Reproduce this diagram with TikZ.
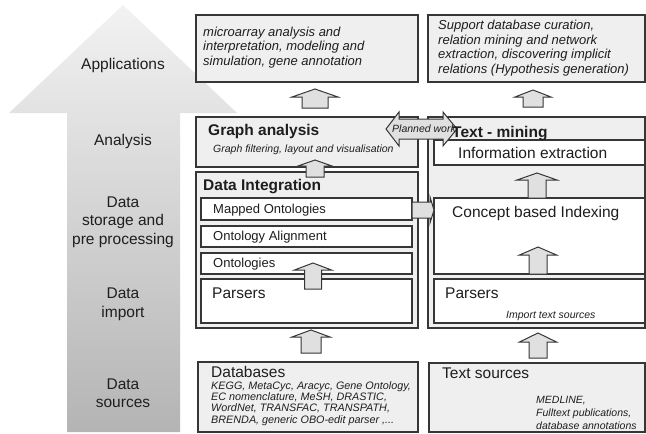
\documentclass[tikz,border=0pt]{standalone}
\usepackage{fontspec}
\setmainfont{Liberation Sans}
\definecolor{boxfill}{HTML}{EFEFF0}
\definecolor{bord}{HTML}{363636}
\definecolor{arrfill}{HTML}{E0E0E0}
\definecolor{labcol}{HTML}{1E1E1E}
\definecolor{bigtop}{HTML}{F2F2F2}
\definecolor{bigbot}{HTML}{B4B4B4}
\newcommand\fsz[2]{\fontsize{#1}{#2}\selectfont}
\newcommand\leftlines[1]{\vtop{\halign{##\hfil\cr#1\crcr}}}
\newcommand\centlines[1]{\vtop{\halign{\hfil##\hfil\cr#1\crcr}}}
% block up arrow: x, tip y, head base y, bottom y, head half width, shaft half width
\newcommand\uparr[6]{\draw[blockarr] (#1,#2) -- (#1+#5,#3) -- (#1+#6,#3) -- (#1+#6,#4) -- (#1-#6,#4) -- (#1-#6,#3) -- (#1-#5,#3) -- cycle;}
\begin{document}
\begin{tikzpicture}[x=1pt,y=-1pt,
  box/.style={draw=bord,line width=1.1pt,fill=boxfill,inner sep=0pt,outer sep=0pt,anchor=north west},
  wbox/.style={box,fill=white},
  blockarr/.style={draw=bord,line width=1pt,fill=arrfill,line join=miter},
  sidelab/.style={font=\fsz{15.5}{18.5},text=labcol,inner sep=0pt,anchor=base},
  ttlbf/.style={font=\bfseries\fsz{15.5}{18},text=labcol,inner sep=0pt,anchor=base west},
  ttlrg/.style={font=\fsz{15.5}{18},text=labcol,inner sep=0pt,anchor=base west},
  midtxt/.style={font=\fsz{13}{15},text=labcol,inner sep=0pt,anchor=base west},
  apptxt/.style={font=\itshape\fsz{13}{14.7},text=labcol,inner sep=0pt,anchor=base west},
  smalltxt/.style={font=\itshape\fsz{10.5}{13},text=labcol,inner sep=0pt,anchor=base west},
]
\useasboundingbox[fill=white] (0,0) rectangle (646,434);

% big gradient arrow
\shade[top color=bigtop,bottom color=bigbot] (123,5) -- (237,113) -- (180,113) -- (180,432) -- (67,432) -- (67,113) -- (9,113) -- cycle;

% hidden arrow (Ontology Alignment -> Mapped Ontologies)
\uparr{313}{214}{221}{234}{17}{7.5}

% boxes
\node[box,minimum width=222,minimum height=67] (appL) at (196,15) {};
\node[box,minimum width=217,minimum height=67] (appR) at (428,15) {};
\node[box,minimum width=222,minimum height=50] (graphL) at (196,117) {};
\node[box,minimum width=217,minimum height=211] (tmR) at (428,117) {};
\node[wbox,minimum width=211,minimum height=25] (infoR) at (434,140) {};
\node[wbox,minimum width=211,minimum height=76] (concR) at (434,198) {};
\node[wbox,minimum width=211,minimum height=44] (parsR) at (434,279) {};
\node[box,minimum width=222,minimum height=156] (diL) at (196,172) {};
\node[wbox,minimum width=211,minimum height=22] (mapL) at (201,198) {};
\node[wbox,minimum width=211,minimum height=21] (alignL) at (201,226) {};
\node[wbox,minimum width=211,minimum height=21] (ontL) at (201,253) {};
\node[wbox,minimum width=211,minimum height=44] (parsL) at (201,279) {};
\node[box,minimum width=220,minimum height=70] (dbL) at (198,362) {};
\node[box,minimum width=216,minimum height=69] (tsR) at (429,363) {};

% block arrows
\uparr{315}{89}{97}{108}{23}{13}
\uparr{533}{90}{97}{107}{18}{10}
\uparr{315}{160}{166}{177}{17}{9}
\uparr{537}{173}{180}{198}{20}{9}
\uparr{538}{247}{255}{274}{18.5}{9}
\uparr{538}{333}{342}{358}{18.5}{9}
\uparr{313}{263}{270}{289}{18.5}{8.5}
\uparr{311}{330}{337}{353}{19}{10}

% Mapped Ontologies -> Concept based Indexing
\draw[blockarr] (412,202) -- (430,202) -- (430,197) -- (434,210) -- (430,223) -- (430,218) -- (412,218) -- cycle;
% Planned work double arrow
\draw[blockarr] (386,129) -- (399,112) -- (399,119) -- (443,119) -- (443,112) -- (457,129) -- (443,146) -- (443,139) -- (399,139) -- (399,146) -- cycle;

% side labels
\node[sidelab] (lApp) at (123,69) {Applications};
\node[sidelab] (lAna) at (123,145) {Analysis};
\node[sidelab] (lSto) at (123,207) {\centlines{Data\cr storage and\cr pre processing}};
\node[sidelab] (lImp) at (123,298.5) {\centlines{Data\cr import}};
\node[sidelab] (lSrc) at (123,389) {\centlines{Data\cr sources}};

% texts
\node[apptxt] (tAppL) at (203,36) {\leftlines{microarray analysis and\cr interpretation, modeling and\cr simulation, gene annotation}};
\node[apptxt] (tAppR) at (438,29.5) {\leftlines{Support database curation,\cr relation mining and network\cr extraction, discovering implicit\cr relations (Hypothesis generation)}};
\node[ttlbf] (tGraph) at (208,135) {Graph analysis};
\node[smalltxt] (tGraphS) at (213,152.5) {Graph filtering, layout and visualisation};
\node[smalltxt] (tPlan) at (392,132.5) {Planned work};
\node[ttlbf] (tTM) at (452,137) {Text - mining};
\node[ttlrg] (tInfo) at (458,158.5) {Information extraction};
\node[ttlbf] (tDI) at (203,190) {Data Integration};
\node[midtxt] (tMap) at (213,213.5) {Mapped Ontologies};
\node[midtxt] (tAlign) at (213,240.5) {Ontology Alignment};
\node[midtxt] (tOnt) at (213,267.5) {Ontologies};
\node[ttlrg] (tParsL) at (212,298) {Parsers};
\node[ttlrg] (tConc) at (452,217) {Concept based Indexing};
\node[ttlrg] (tParsR) at (445,298) {Parsers};
\node[smalltxt] (tImp) at (506,318.5) {Import text sources};
\node[ttlrg] (tDB) at (211,377) {Databases};
\node[font=\itshape\fsz{10.8}{11.2},text=labcol,inner sep=0pt,anchor=base west] (tDBl) at (211,389.5) {\leftlines{KEGG, MetaCyc, Aracyc, Gene Ontology,\cr EC nomenclature, MeSH, DRASTIC,\cr WordNet, TRANSFAC, TRANSPATH,\cr BRENDA, generic OBO-edit parser ,...}};
\node[ttlrg] (tTS) at (442,378) {Text sources};
\node[font=\itshape\fsz{10.5}{13},text=labcol,inner sep=0pt,anchor=base west] (tTSl) at (536,403.5) {\leftlines{MEDLINE,\cr Fulltext publications,\cr database annotations}};
\end{tikzpicture}
\end{document}
